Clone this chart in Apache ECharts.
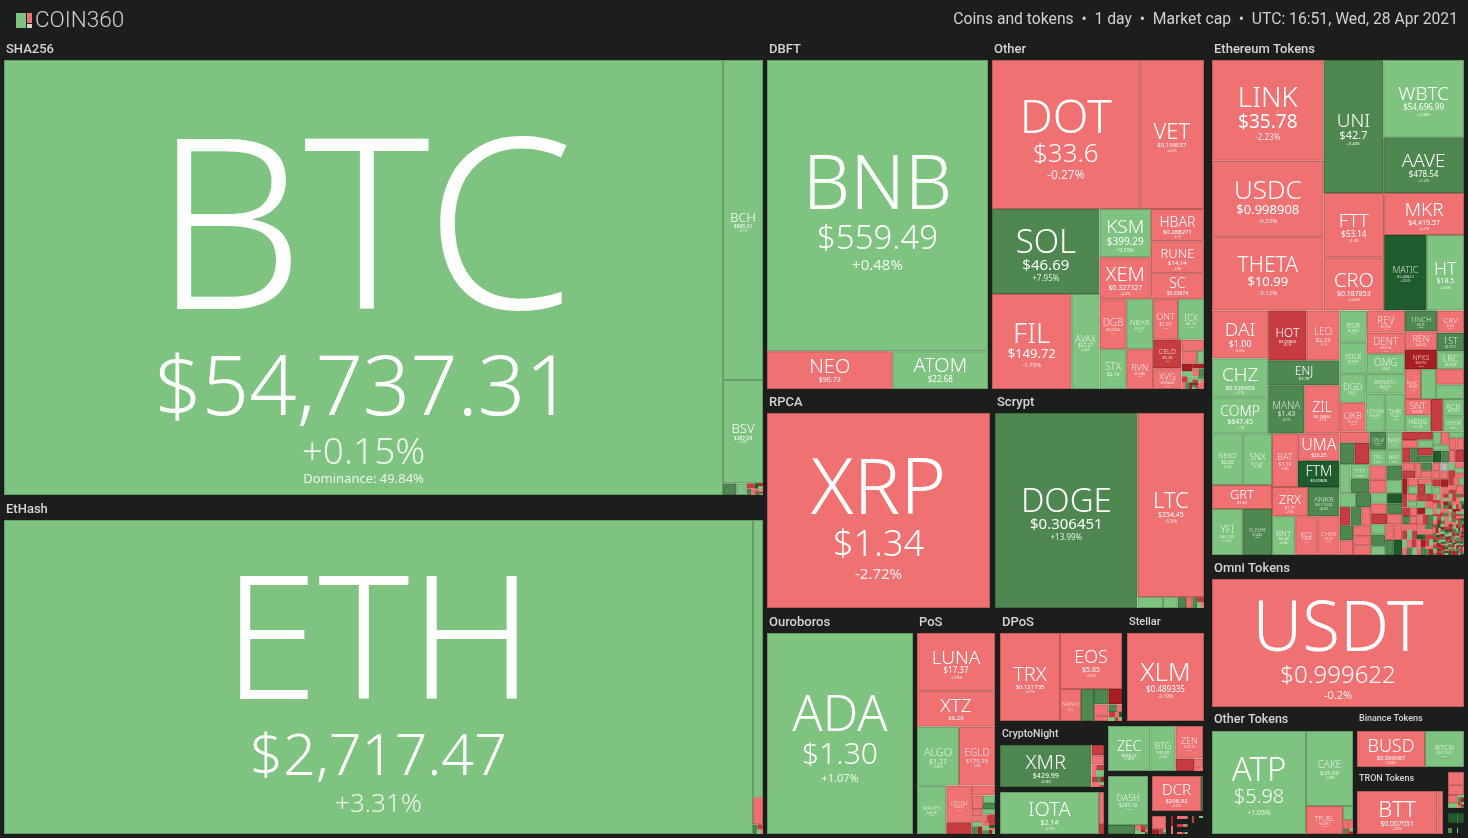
<!DOCTYPE html>
<html><head><meta charset="utf-8">
<style>html,body{margin:0;padding:0;background:#1c1e1e;overflow:hidden}#c{width:1468px;height:838px}</style>
<script src="https://cdn.jsdelivr.net/npm/echarts@6/dist/echarts.min.js"></script>
</head><body><div id="c"></div>
<script>
const sha256Names=['BTC','BCH','BSV','','','','','','','','','','','','','','','',''];
const sha256Values=[312330,12760,4120,156,120,40,30,22,18,14,12,10,9,8,7,6,5,4,3];
const sha256Changes=[0.15,2.1,1.8,8,2,-7,8,-2,25,-12,2,-2,8,-7,2,-2,8,-12,2];
const sha256Prices=['$54,737.31','$865.31','$287.09'];

const ethashNames=['ETH','ETC','','','','',''];
const ethashValues=[234872,2770,270,45,25,15,10];
const ethashChanges=[3.31,2.6,-2,8,-7,2,-2];
const ethashPrices=['$2,717.47','$25.60'];

const dbftNames=['BNB','NEO','ATOM'];
const dbftValues=[64311,4750,3610];
const dbftChanges=[0.48,-1.6,1.2];
const dbftPrices=['$559.49','$90.73','$22.68'];

const otherNames=['DOT','VET','SOL','FIL','AVAX','KSM','XEM','HBAR','RUNE','SC','DGB','NEAR','STX','RVN','ONT','ICX','CELO','XVG','','','','','','','','','','','','','','','','','','','','','','','','',''];
const otherValues=[21903,9536,9095,7505,2660,2448,2142,1696,1696,1378,1330,1320,1060,1060,1000,1040,812,588,250,195,91,84,55,54,48,40,36,30,26,24,20,18,16,14,12,10,8,8,6,5,4,3,40];
const otherChanges=[-0.27,-4.9,7.95,-1.76,2.4,2.55,-4.4,-3.1,-2.8,-3.3,-1.9,2.2,1.4,-2.7,-3.1,1.6,-7.2,-3.5,-2,-2,2,-12,2,-12,-2,8,-7,2,-2,8,-12,2,-7,8,2,-2,25,-12,8,2,-7,8,-2];
const otherPrices=['$33.6','$0.199037','$46.69','$149.72','$27.27','$399.29','$0.327327','$0.288271','$14.14','$0.03874','$0.0943','$5.01','$2.14','$0.1686','$1.67','$2.19','$5.26','$0.034047'];

const ethTokenNames=['LINK','USDC','THETA','UNI','WBTC','AAVE','FTT','CRO','MKR','MATIC','HT','DAI','CHZ','COMP','HOT','LEO','ENJ','MANA','ZIL','NEXO','SNX','GRT','YFI','SUSHI','BAT','UMA','FTM','ZRX','ANKR','BNT','KCS','CHSB','RSR','XDCE','REV','DENT','OMG','DGD','OKB','RENBTC','LOOM','THR','1INCH','REN','NPXS','CRV','1ST','LRC','KNC','','','','SNT','HEDG','','RCN','ITHOR','','','','','TTT','','CELR','BAND','TEL','ANT'];
const ethTokenValues=[11211,8436,8214,7900,6237,4455,3900,3200,3350,3200,2812,2688,2184,2016,1900,1650,1760,1735,1690,1575,1499,1436,1400,1354,1378,1134,1092,1044,928,897,858,858,864,837,836,798,760,754,754,780,722,760,660,590,620,600,500,480,480,450,430,400,425,425,390,365,324,330,315,315,320,285,266,300,285,265,250];
const ethTokenChanges=[-2.23,-0.33,-3.12,9.48,0.08,7.2,-3.4,-2.42,-3.2,23.5,1.8,-0.02,2.1,1.7,-8.1,-1.1,8.4,9.1,-3.7,2.3,1.9,-2.2,1.2,8.8,-1.8,-1.4,24.1,-2.9,8.3,2.6,-3.1,-2.7,2.7,1.9,-2.1,-2.4,1.4,1.8,-2.3,2.2,1.6,1.3,8.2,-2.6,-12.4,-3.1,9.3,1.7,-2.2,2,-2,2,-2.9,1.1,-8,1.4,1.2,-2,8,-7,2,1.5,8,9.2,1.3,2.1,1.6];
const ethTokenPrices=['$35.78','$0.998908','$10.99','$42.7','$54,696.99','$478.54','$53.14','$0.187853','$4,419.57','$0.46822','$18.5','$1.00','$0.526959','$647.45','$0.01665','$2.32','$2.76','$1.43','$0.18554','$2.68','$17.01','$1.62','$42,105','$14.82','$1.19','$26.25','$0.39826','$1.71','$0.11024','$6.48','$14.50','$1.25','$0.0643','$0.0195','$0.3962','$0.0124','$6.42','$357.1','$12.34','$54,410','$0.5371','$1.42','$5.21','$0.8123','$0.0152','$2.63','$0.7712','$0.5218','$2.93','','','','$0.0381','$1.18','','$0.5102','$0.2741','','','','','$0.0176','','$0.0583','$14.73','$0.0112','$7.42'];
// mid-tail tiles without readable labels
const ethMidValues=[240,225,225,210,225,212,200,200,180,196,196,190,165,175,165,165,165,155,155,155,144,160,128,140,126,126];
const ethMidChanges=[-2,-2,8,2,2,8,-7,8,-2,8,-2,-2,-2,-2,2,-2,-7,25,8,-2,2,8,2,-2,-2,8];
const ethTail1Values=[128,128,120,120,120,120,115,115,104,104,104,95,100,90,96,90,88,80];
const ethTail1Changes=[25,-7,-3,-6,3,-8,9,-7,8,2,-2,3,22,7,2,-3,-4,-2];
const ethTail2Values=[110,105,100,95,90,85,85,80,78,75,72,72,70,68,65,65,60,60,58,55,52,50,48,45,42,40,38,36,34,32];
const ethTail2Changes=[-7,-2,-7,-2,8,-2,-12,-2,2,-2,-7,2,-2,0,-2,-2,-7,2,-12,-2,2,-7,-2,2,-2,-7,-2,2,-2,-7];
const ethTail3Values=[72,70,68,66,64,62,60,60,58,56,55,54,53,52,50,50,49,48,47,46,45,44,44,43,42,41,40,40,39,38,37,36,36,35,34,33,32,31];
const ethTail3Changes=[-2,-7,-2,2,-7,-2,8,-2,-7,2,-7,-2,-12,2,-2,-7,8,-2,-2,-7,2,-7,-2,-2,25,8,-2,-7,2,-2,-7,-2,8,2,-2,-12,-2,8];
const ethTail4Values=[26,25,25,24,24,23,23,22,22,21,21,20,20,20,19,19,18,18,18,17,17,17,16,16,16,15,15,15,15,14,14,14,14,14,14,14,14,14,14,14,14,14,14,13,13,13,13,12,12,12,12,12,11,11,11,11,10,10,10,10,10,9,9,9,9,9,8,8,8,8];
const ethTail4Changes=[-7,2,-2,8,-12,-2,2,-7,-2,8,-2,-7,2,-2,-12,8,-2,2,-7,-2,-7,-2,8,2,-2,-7,-12,2,-2,8,-2,2,-7,-2,-7,8,-2,-12,2,8,-2,-7,2,-2,8,-7,-2,25,2,-12,-2,8,-7,2,-2,-7,8,-2,-12,2,-7,-2,2,8,-2,-7,-2,25,2,-7];
const ethTail5Values=[14,13,13,12,12,12,11,11,11,11,10,10,10,10,10,10,9,9,9,9,9,9,9,9,9,8,8,8,8,8,8,8,8,8,8,8,8,8,8,8,7,7,7,7,7,7,7,7,7,7,7,7,7,7,7,7,7,7,7,7,7,7,7,7,7,7,7,7,7,7,7,7,7,7,7,7,7,7,7,7,6,6,6,6,6,6,6,6,6,6,6,6,6,6,6,6,6,6,6,6,5,5,5,5,5,5,5,5,5,5,5,5,5,5,5,5,5,5,5,5,4,4,4,4,4,4,4,4,4,4,4,4,4,4,4,3,3,3,3,3];
const ethTail5Changes=[8,-7,25,-2,-12,2,8,-7,-2,25,-7,2,-12,8,-2,-7,25,2,-12,8,2,-7,8,-12,25,-2,-7,8,2,-12,-12,8,2,-7,25,-2,8,-7,-12,2,25,-7,8,-2,-12,2,8,-12,-7,25,-2,8,-7,25,2,-12,-7,8,-2,2,-12,25,-7,8,2,-2,-12,8,25,-7,8,-2,-12,-7,2,25,8,-12,-2,-7,8,-12,-2,25,-7,2,8,-7,-12,8,-7,25,2,-12,8,-2,-7,25,-12,2,2,8,-7,-12,25,-7,-2,8,2,-12,-12,-7,8,25,-2,2,-12,8,-7,25,8,2,-12,-7,25,8,-2,-7,-12,2,-7,25,8,-12,2,-7,8,-2,25,-12];

const xrpValues=[43485];
const scryptNames=['DOGE','LTC','','','','','','','',''];
const scryptValues=[27690,12144,275,160,90,70,50,35,25,15];
const scryptChanges=[13.99,-3.5,2,2,8,-2,8,-7,2,-2];
const scryptPrices=['$0.306451','$254.45'];

const posNames=['LUNA','XTZ','ALGO','EGLD','WAVES','QTUM'];
const posValues=[4524,2808,2476,2128,1421,960,280,228,152,88,75,75,58,68,38,58,48,44,38,30,27,23,19,15,13,12,10];
const posChanges=[-1.38,-1.2,1.81,-2.6,1.3,-1.9,-7,-2,-2,2,8,-2,-2,2,-2,-7,2,8,-12,-2,2,8,-7,25,-2,-12,2];
const posPrices=['$17.37','$6.26','$1.27','$175.76','$24.58','$14.52'];

const dposNames=['TRX','EOS','NANO'];
const dposValues=[5280,3472,672,416,224,208,165,75,64,40,35,25,20,15,12,8,5];
const dposChanges=[-3.51,-3.02,-2.1,8,8,-12,-2,-2,8,-2,-7,2,-2,25,-7,2,-2];
const dposPrices=['$0.121735','$5.85','$4.97'];

const cryptonightNames=['XMR'];
const cryptonightValues=[3780,126,112,56,42,50,30,24,20,16,14,12,8];
const cryptonightChanges=[8.98,-7,-2,-2,-7,2,-7,-2,8,-12,-2,2,-7];
const cryptonightPrices=['$429.99'];

const iotaNames=['IOTA'];
const iotaValues=[4158,160,50];
const iotaChanges=[2.75,-2,-7];
const iotaPrices=['$2.14'];

const zecNames=['ZEC','BTG','ZEN'];
const zecValues=[1890,1125,891,228,81,27];
const zecChanges=[1.82,2.4,-2.2,-7,-2,-2];
const zecPrices=['$226.13','$90.38','$129.74'];

const dashNames=['DASH'];
const dashValues=[1960,243,30,25,18,14,10,8,6,4,2];
const dashChanges=[1.63,8,-2,2,-7,8,-12,2,-2,25,-7];
const dashPrices=['$287.16'];

const dcrNames=['DCR'];
const dcrValues=[1715,70];
const dcrChanges=[-3.12,8];
const dcrPrices=['$208.92'];

const otherTokNames=['ATP','CAKE','TFUEL'];
const otherTokValues=[9682,3525,1036,140,50,35,20,15,10,8];
const otherTokChanges=[1.05,1.78,-2.7,2,-2,-2,8,-7,2,-12];
const otherTokPrices=['$5.98','$35.99','$0.2912'];

const binanceNames=['BUSD','BTCB'];
const binanceValues=[2448,1404];
const binanceChanges=[-0.04,0.12];
const binancePrices=['$0.999087','$54,715.62'];

const tronNames=['BTT'];
const tronValues=[3483,125,122];
const tronChanges=[-3.87,-2,-2];
const tronPrices=['$0.007051'];

const tronRestValues=[224,176,84,54,18,16,14,12,10,8,6,4];
const tronRestChanges=[-2,-2,-2,2,2,8,-12,-7,-2,2,-12,8];
const tronDarkValues=[90,60];
const tronDarkChanges=[25,25];
const tronSmallAValues=[12];
const tronSmallAChanges=[8];
const tronSmallBValues=[5];
const tronSmallBChanges=[2];
const restAValues=[205,40,20,8,5];
const restAChanges=[-2,-12,-7,2,8];
const restBValues=[20,16];
const restBChanges=[-12,-2];
const restCValues=[22,8,3];
const restCChanges=[-2,-2,8];
const restDValues=[20,8,5];
const restDChanges=[-7,-2,8];
const restEValues=[10,6,4,2];
const restEChanges=[-2,-7,2,8];
const restFValues=[14];
const restFChanges=[-7];
const restGValues=[8];
const restGChanges=[2];

// ---------- styling tables (separate from the data) ----------
// symbol / price / change font sizes
const fontTable={BTC:[238,83,37],ETH:[172,57.5,26],BNB:[75,33,15],XRP:[78,36,15],USDT:[69,24,11],ADA:[50,30,11],NEO:[20,7,4],ATOM:[20,8,4],BCH:[13,5,3],BSV:[13,5,3],
DOT:[46.5,26,12],VET:[22,6,4],SOL:[33,15,8],FIL:[28,13,6],AVAX:[9,5,3],KSM:[19,10,5],XEM:[20,7,4],HBAR:[14,6,3],RUNE:[13,6,3],SC:[14,5,3],DGB:[10,4,2],NEAR:[8,4,2],STX:[10,5,2],RVN:[9,3,2],ONT:[9,5,2],ICX:[9,4,2],CELO:[7,4,2],XVG:[9,3,2],
DOGE:[33,15,8],LTC:[22,7,5],LINK:[28,19,8],USDC:[26,13,6],THETA:[21,13,6],UNI:[19,11,4],WBTC:[19,8,4],AAVE:[19,8,4],FTT:[19,8,4],CRO:[20,7,4],MKR:[19,7,4],MATIC:[9,4,3],HT:[18,7,4],
DAI:[19,9,3],HOT:[12,4,3],LEO:[10,6,3],CHZ:[19,6,3],COMP:[14,7,3],ENJ:[12,4,3],MANA:[10,7,3],ZIL:[14,4,3],NEXO:[7,5,3],SNX:[9,4,3],BAT:[9,5,3],GRT:[13,4,3],UMA:[16,5,3],FTM:[14,4,3],ZRX:[13,4,3],ANKR:[8,4,3],YFI:[10,4,3],SUSHI:[6,3,2],BNT:[8,4,3],KCS:[7,3,2],CHSB:[6,3,2],
RSR:[8,3,2],XDCE:[7,3,2],REV:[10,3,2],DENT:[10,3,2],OMG:[10,3,2],DGD:[9,3,2],OKB:[9,3,2],RENBTC:[6,3,2],LOOM:[6,3,2],THR:[7,3,2],'1INCH':[7,3,2],REN:[9,3,2],NPXS:[7,3,2],CRV:[8,3,2],'1ST':[9,3,2],LRC:[9,3,2],KNC:[6,3,2],SNT:[9,3,2],HEDG:[7,3,2],RCN:[7,3,2],ITHOR:[5,2,1],CELR:[5,2,1],BAND:[5,2,1],TEL:[6,2,1],ANT:[6,2,1],TTT:[6,2,1],
LUNA:[19,8,4],XTZ:[19,6,4],ALGO:[11,7,3],EGLD:[10,6,3],WAVES:[6,3,2],QTUM:[6,3,2],TRX:[20,6,3],EOS:[18,7,3],NANO:[6,2,2],XLM:[26,8,5],XMR:[20,7,3],IOTA:[20,7,3],ZEC:[14,4,3],BTG:[9,4,3],ZEN:[9,3,2],DASH:[9,5,2],DCR:[15,6,3],ATP:[33,20,7],CAKE:[10,6,3],TFUEL:[7,3,2],BUSD:[18,6,3],BTCB:[8,3,2],BTT:[22,7,3]};
const extraLines={BTC:'Dominance: 49.84%'};
const lineOverride={BTC:[214,85.6,38.4],ETH:[156,62,31]};
const labelNudge={BTC:32,ETH:18};
const FONT='"Noto Sans",Roboto,sans-serif';
const BG='#1c1e1e';
const palette=[[20,'#1f5c2c','#1a4a25'],[5,'#4e874f','#3e6c3f'],[0.0001,'#7fc380','#659c66'],[-0.0001,'#b9b9b9','#949494'],[-5,'#ef7171','#bf5a5a'],[-10,'#c73c40','#9f3033'],[-1e9,'#a91e22','#87181b']];
function colorEntry(c){for(const e of palette){if(c>=e[0]||(e[0]===-5&&c>-5)) return e;}return palette[palette.length-1];}
function signed(c){return (c>0?'+':'')+c+'%';}
function labelFor(name,price,chg,tileH){
  const f=fontTable[name];
  if(!f) return {show:false};
  const tint=f[0]<12?'rgba(255,255,255,.78)':'#fff';
  const sh=Math.max(f[0]/70,.6);
  const base={color:tint,fontFamily:FONT,align:'center',textShadowColor:'rgba(0,0,0,.38)',textShadowOffsetX:sh,textShadowOffsetY:sh};
  const lh=lineOverride[name]||[f[0]*.9,f[1]*1.08,f[2]*1.2];
  const rich={
    s:{...base,fontSize:f[0],lineHeight:lh[0],fontWeight:300},
    p:{...base,fontSize:f[1],lineHeight:lh[1],fontWeight:f[1]>=20?300:400},
    c:{...base,fontSize:f[2],lineHeight:lh[2],fontWeight:f[2]>=20?300:400,color:'rgba(255,255,255,.85)'}
  };
  let block=lh[0]+lh[1]+lh[2];
  let fmt=`{s|${name}}\n{p|${price}}\n{c|${signed(chg)}}`;
  if(extraLines[name]){
    rich.d={...base,fontSize:13,lineHeight:14,color:'rgba(255,255,255,.85)',textShadowOffsetX:0,textShadowOffsetY:0};
    fmt+=`\n{d|${extraLines[name]}}`;
    block+=14;
  }
  const nudge=labelNudge[name]!==undefined?labelNudge[name]:f[0]*.107;
  const topPad=Math.max(0,(tileH-block)/2+nudge);
  return {show:true,position:'inside',align:'center',verticalAlign:'middle',overflow:'none',padding:[topPad,0,0,0],formatter:fmt,rich};
}
// same halving rule the original map uses: the list is cut where the value sum is nearest half
function buildTree(box,names,values,changes,prices){
  const sums=[0];values.forEach((v,i)=>sums.push(sums[i]+v));
  function part(i,j,value,w,h){
    if(i>=j-1){
      const v=values[i],nm=names[i]||'';
      const bw=v>=60?1:(v>=28?.5:0);
      const e=colorEntry(changes[i]);
      return {name:nm,value:v,
        itemStyle:{color:e[1],borderColor:e[2],borderWidth:bw},
        label:labelFor(nm,(prices&&prices[i])||'',changes[i],h)};
    }
    const off=sums[i],target=value/2+off;let k=i+1,hi=j-1;
    while(k<hi){const m=(k+hi)>>>1;if(sums[m]<target)k=m+1;else hi=m;}
    if(target-sums[k-1]<sums[k]-target&&i+1<k)--k;
    const left=sums[k]-off,share=left/value;
    const kids=w>h
      ?[part(i,k,left,w*share,h),part(k,j,value-left,w*(1-share),h)]
      :[part(i,k,left,w,h*share),part(k,j,value-left,w,h*(1-share))];
    return {name:'',children:kids};
  }
  return part(0,values.length,sums[values.length],box[2]-box[0],box[3]-box[1]);
}
const seriesList=[];
function addGroup(box,names,values,changes,prices){
  const root=buildTree(box,names,values,changes,prices);
  seriesList.push({type:'treemap',left:box[0],top:box[1],width:box[2]-box[0],height:box[3]-box[1],
    roam:false,nodeClick:false,silent:true,animation:false,sort:false,squareRatio:1e-9,visibleMin:0,
    breadcrumb:{show:false},upperLabel:{show:false},
    itemStyle:{borderWidth:0,gapWidth:0},
    data:root.children?root.children:[root]});
}
// assemble Ethereum tokens: named tiles in map order with the unnamed tail
const ethAllValues=ethTokenValues.concat(ethMidValues,ethTail1Values,ethTail2Values,ethTail3Values,ethTail4Values,ethTail5Values);
const ethAllChanges=ethTokenChanges.concat(ethMidChanges,ethTail1Changes,ethTail2Changes,ethTail3Changes,ethTail4Changes,ethTail5Changes);

addGroup([4,60,763,495],sha256Names,sha256Values,sha256Changes,sha256Prices);
addGroup([4,520,763,834],ethashNames,ethashValues,ethashChanges,ethashPrices);
addGroup([767,60,988,389],dbftNames,dbftValues,dbftChanges,dbftPrices);
addGroup([992,60,1204,389],otherNames,otherValues,otherChanges,otherPrices);
addGroup([1212,60,1464,555],ethTokenNames,ethAllValues,ethAllChanges,ethTokenPrices);
addGroup([767,413,990,608],['XRP'],xrpValues,[-2.72],['$1.34']);
addGroup([995,413,1204,608],scryptNames,scryptValues,scryptChanges,scryptPrices);
addGroup([767,633,913,834],['ADA'],[29346],[1.07],['$1.30']);
addGroup([917,633,995,834],posNames,posValues,posChanges,posPrices);
addGroup([1000,633,1122,721],dposNames,dposValues,dposChanges,dposPrices);
addGroup([1127,633,1204,721],['XLM'],[6776],[-2.19],['$0.489335']);
addGroup([1000,745,1104,787],cryptonightNames,cryptonightValues,cryptonightChanges,cryptonightPrices);
addGroup([1000,792,1104,834],iotaNames,iotaValues,iotaChanges,iotaPrices);
addGroup([1108,726,1203,771],zecNames,zecValues,zecChanges,zecPrices);
addGroup([1108,776,1148,834],dashNames,dashValues,dashChanges,dashPrices);
addGroup([1152,776,1203,811],dcrNames,dcrValues,dcrChanges,dcrPrices);
addGroup([1212,579,1464,707],['USDT'],[32256],[-0.2],['$0.999622']);
addGroup([1212,731,1353,834],otherTokNames,otherTokValues,otherTokChanges,otherTokPrices);
addGroup([1357,731,1464,767],binanceNames,binanceValues,binanceChanges,binancePrices);
addGroup([1357,791,1443,834],tronNames,tronValues,tronChanges,tronPrices);
addGroup([1448,772,1464,808],[],tronRestValues,tronRestChanges);
addGroup([1448,813,1464,823],[],tronDarkValues,tronDarkChanges);
addGroup([1448,828,1452,833],[],tronSmallAValues,tronSmallAChanges);
addGroup([1457,828,1458,833],[],tronSmallBValues,tronSmallBChanges);
addGroup([1152,816,1166,834],[],restAValues,restAChanges);
addGroup([1171,816,1173,834],[],restBValues,restBChanges);
addGroup([1177,816,1188,819],[],restCValues,restCChanges);
addGroup([1177,824,1188,827],[],restDValues,restDChanges);
addGroup([1177,832,1188,834],[],restEValues,restEChanges);
addGroup([1192,816,1194,823],[],restFValues,restFChanges);
addGroup([1199,816,1203,818],[],restGValues,restGChanges);

const groupLabels=[['SHA256',6,49,13],['EtHash',6,509,13],['DBFT',769,49,13],['Other',994,49,13],['Ethereum Tokens',1214,49,13],['RPCA',769,402,13],['Scrypt',997,402,13],['Ouroboros',769,622,13],['PoS',919,622,13],['DPoS',1002,622,13],['Stellar',1129,621,11],['CryptoNight',1002,733,10.5],['Omni Tokens',1214,568,13],['Other Tokens',1214,719,12.5],['Binance Tokens',1359,717,9],['TRON Tokens',1359,777,9]];
const graphics=groupLabels.map(g=>({type:'text',left:g[1],top:g[2]-g[3]*.62+2.5,silent:true,style:{text:g[0],x:0,y:0,fill:'#d4d6d6',font:`500 ${g[3]}px Roboto,sans-serif`}}));
graphics.push(
 {type:'rect',left:16,top:13,silent:true,shape:{width:10,height:15},style:{fill:'#7fc380'}},
 {type:'rect',left:27,top:13,silent:true,shape:{width:5,height:10},style:{fill:'#ef7171'}},
 {type:'rect',left:27,top:24,silent:true,shape:{width:5,height:4},style:{fill:'#d8d8d8'}},
 {type:'text',left:35,top:10,silent:true,style:{text:'COIN360',fill:'#cfd1d1',font:'300 22.5px Roboto,sans-serif'}},
 {type:'text',right:10,top:12,silent:true,style:{text:'Coins and tokens  •  1 day  •  Market cap  •  UTC: 16:51, Wed, 28 Apr 2021',fill:'#cfd1d1',font:'400 15.7px Roboto,sans-serif'}}
);
const chart=echarts.init(document.getElementById('c'),null,{renderer:'canvas',width:1468,height:838});
chart.setOption({backgroundColor:BG,animation:false,tooltip:{show:false},series:seriesList,graphic:graphics});
</script></body></html>
